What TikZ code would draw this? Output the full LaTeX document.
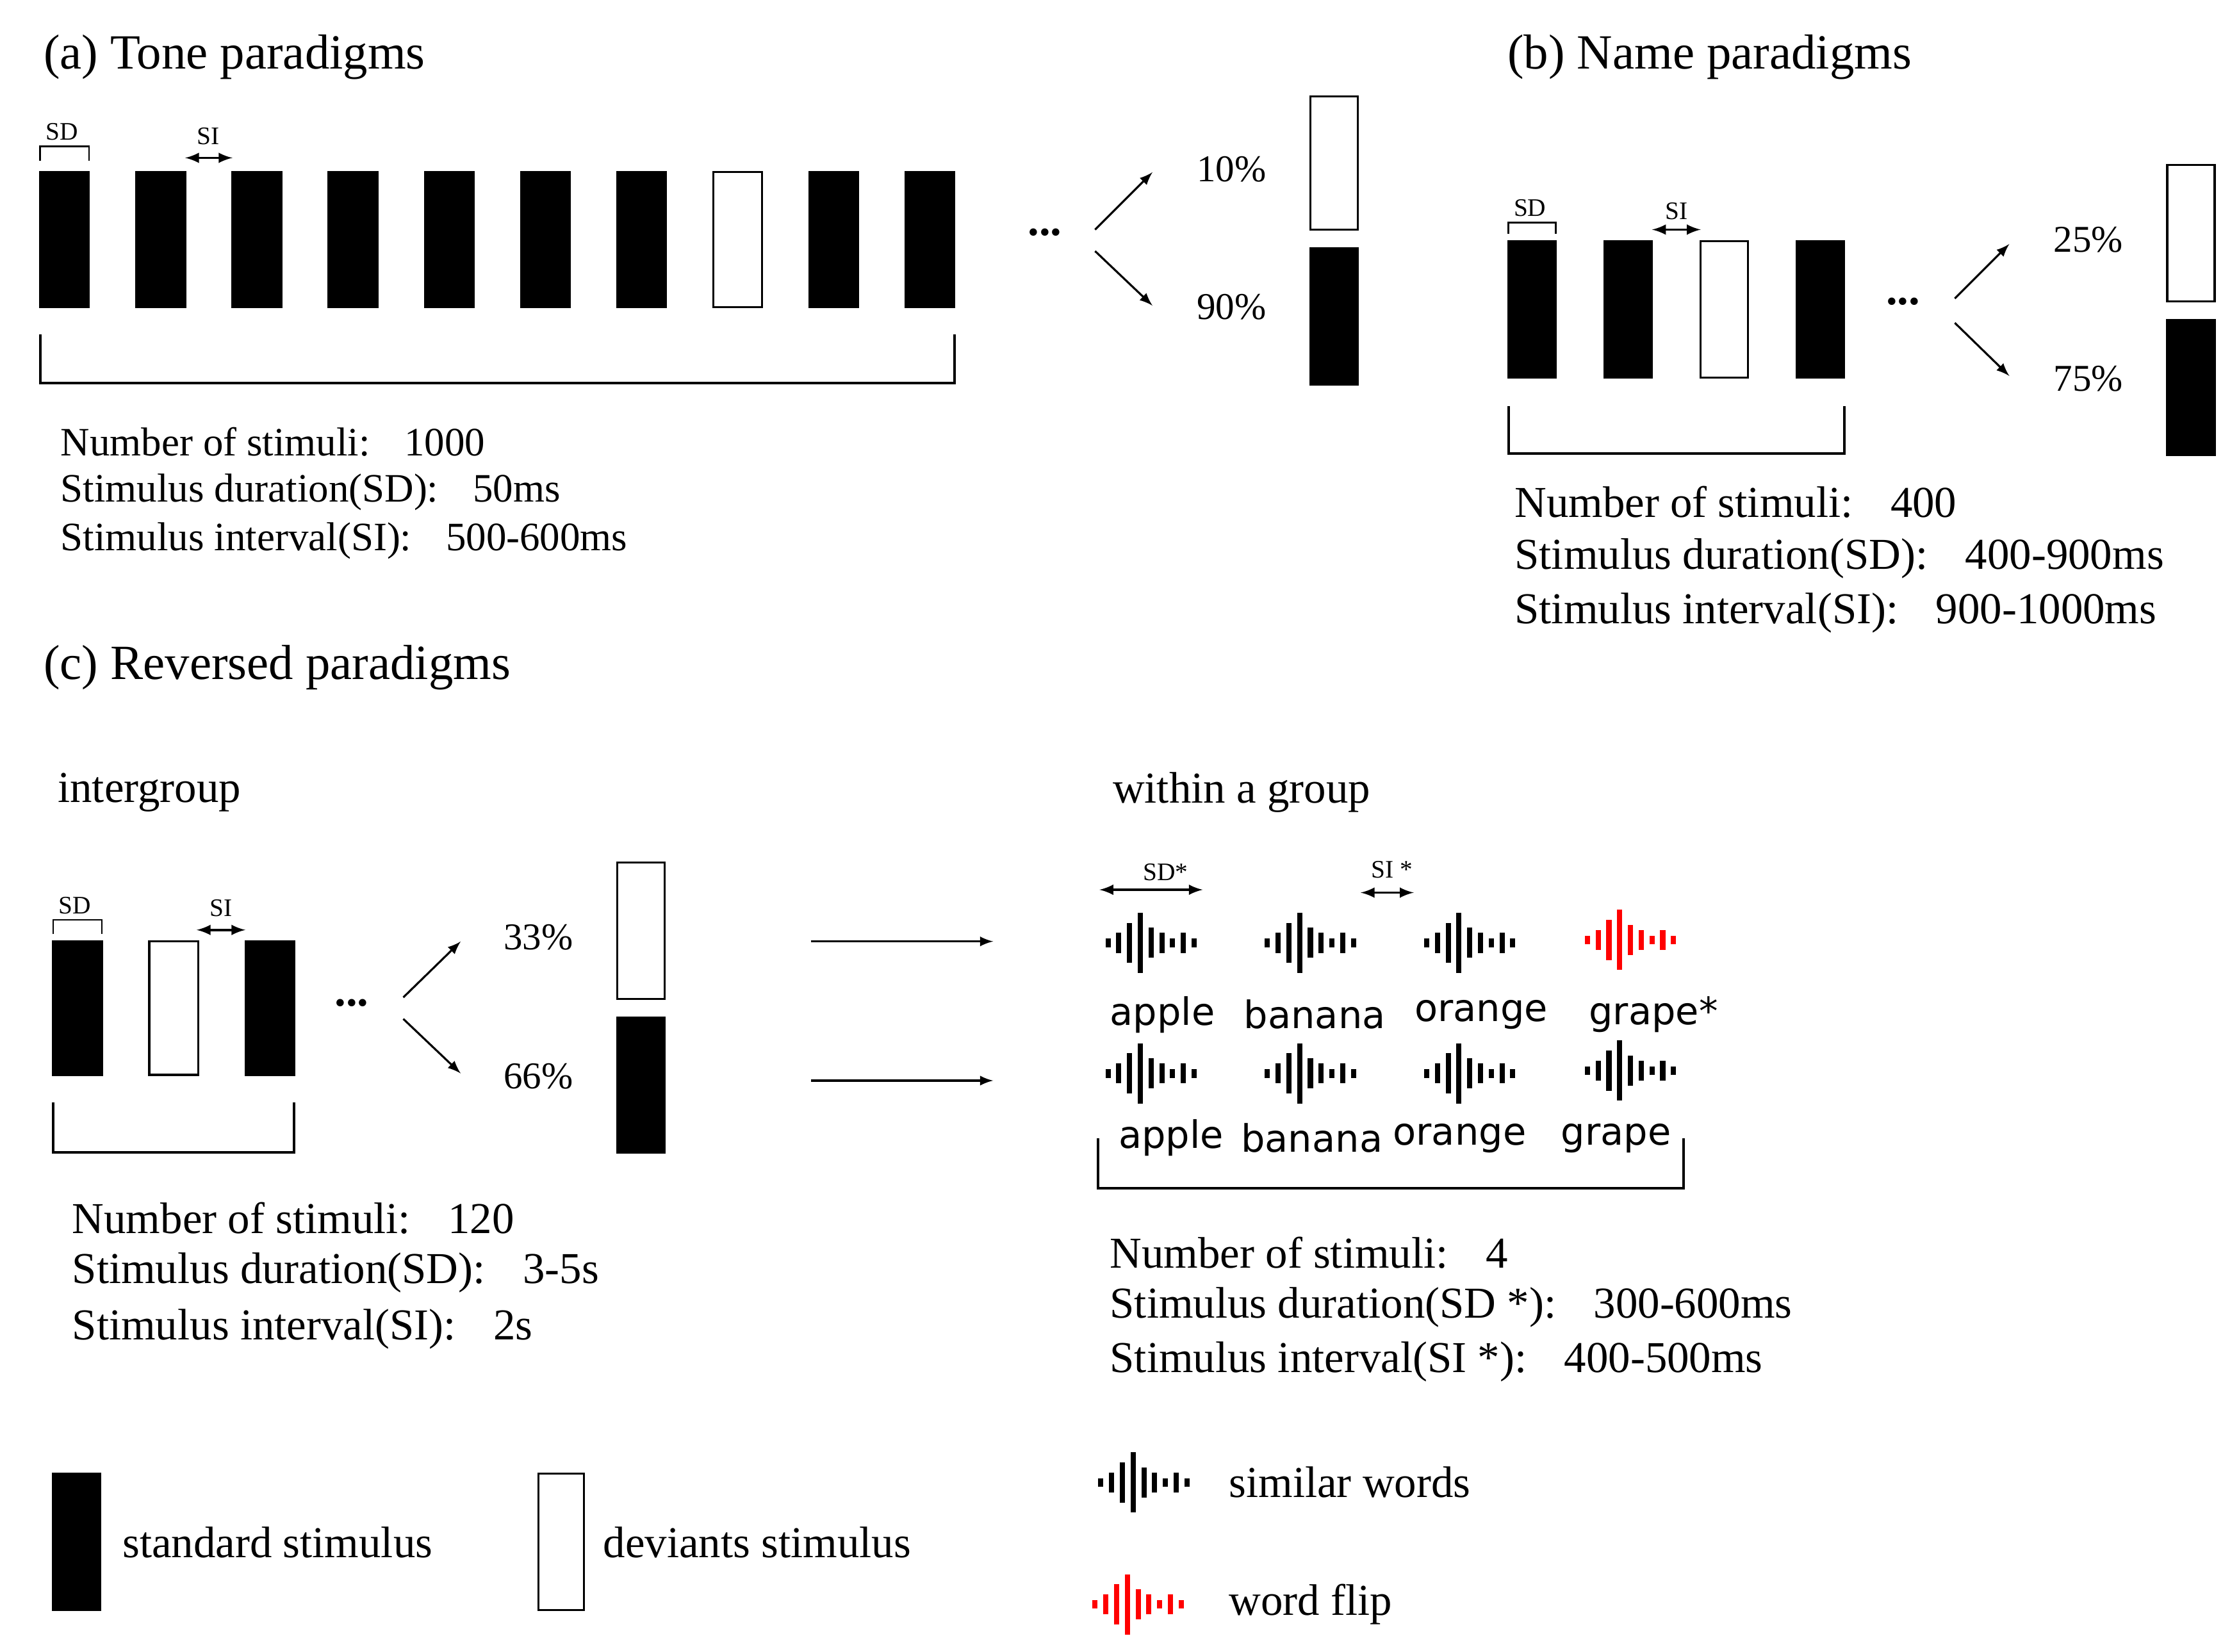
\documentclass[tikz,border=0pt]{standalone}
\usepackage{fontspec}
\setmainfont{Liberation Serif}
\newfontfamily\sansw{DejaVu Sans}
\newcommand\cln{:\hspace{0.85em}}
\begin{document}
\begin{tikzpicture}[x=0.02cm,y=-0.02cm,
  blk/.style={fill=black,draw=black,line width=0.8pt},
  wht/.style={fill=white,draw=black,line width=0.8pt},
  txt/.style={anchor=west,inner sep=0,font=\fontsize{16}{16}\selectfont},
  txtb/.style={anchor=west,inner sep=0,font=\fontsize{17.5}{17.5}\selectfont},
  ttl/.style={anchor=west,inner sep=0,font=\fontsize{19.5}{19.5}\selectfont},
  sm/.style={inner sep=0,font=\fontsize{10}{10}\selectfont},
  pc/.style={inner sep=0,font=\fontsize{15}{15}\selectfont},
  wd/.style={inner sep=0,font=\sansw\fontsize{15}{15}\selectfont},
  arr/.style={-latex,line width=0.8pt},
  darr/.style={latex-latex,line width=0.9pt},
  brk/.style={line width=1pt},
  wave/.pic={\foreach \i/\h in {0/3,1/7,2/14,3/21,4/10.5,5/7,6/3,7/7,8/3}{\fill[pic actions] ({-30+\i*7.5-1.8},{-\h}) rectangle ({-30+\i*7.5+1.8},{\h});}}
]
\useasboundingbox (0,0) rectangle (1560,1151);
% (a)
\node[ttl] (ta) at (30,40) {(a) Tone paradigms};
\draw[line width=0.7pt] (28,112) -- (28,102) -- (62,102) -- (62,112);
\node[sm] (sda) at (43,92) {SD};
\foreach \x/\s in {28/blk,95/blk,162/blk,229/blk,296/blk,363/blk,430/blk,497/wht,564/blk,631/blk}
  \draw[\s] (\x,120) rectangle ++(34,94);
\coordinate (sia1) at (129,110); \coordinate (sia2) at (162,110);
\draw[darr] (sia1) -- (sia2);
\node[sm] (sia) at (145,95) {SI};
\node[font=\fontsize{18}{18}\selectfont\bfseries] (da) at (728,162) {...};
\coordinate (aa0) at (763,160); \coordinate (aa1) at (803,120);
\coordinate (ab0) at (763,175); \coordinate (ab1) at (803,213);
\draw[arr] (aa0) -- (aa1); \draw[arr] (ab0) -- (ab1);
\node[pc] (p10) at (858,118) {10\%};
\node[pc] (p90) at (858,214) {90\%};
\draw[wht] (913,67) rectangle (946,160);
\draw[blk] (913,173) rectangle (946,268);
\draw[brk] (28,233) -- (28,267) -- (665,267) -- (665,233);
\node[txt] at (42,308) {Number of stimuli\cln 1000};
\node[txt] at (42,343) {Stimulus duration(SD)\cln 50ms};
\node[txt] at (42,377) {Stimulus interval(SI)\cln 500-600ms};
% (b)
\node[ttl] (tb) at (1050,40) {(b) Name paradigms};
\draw[line width=0.7pt] (1051,163) -- (1051,155) -- (1084,155) -- (1084,163);
\node[sm] at (1066,145) {SD};
\foreach \x/\s in {1051/blk,1118/blk,1185/wht,1252/blk}
  \draw[\s] (\x,168) rectangle ++(33,95);
\coordinate (sib1) at (1151,160); \coordinate (sib2) at (1185,160);
\draw[darr] (sib1) -- (sib2);
\node[sm] at (1168,147) {SI};
\node[font=\fontsize{18}{18}\selectfont\bfseries] at (1326,210) {...};
\coordinate (ba0) at (1362,208); \coordinate (ba1) at (1400,170);
\coordinate (bb0) at (1362,225); \coordinate (bb1) at (1400,262);
\draw[arr] (ba0) -- (ba1); \draw[arr] (bb0) -- (bb1);
\node[pc] at (1455,167) {25\%};
\node[pc] at (1455,264) {75\%};
\draw[wht] (1510,115) rectangle (1543,210);
\draw[blk] (1510,223) rectangle (1543,317);
\draw[brk] (1051,283) -- (1051,316) -- (1285,316) -- (1285,283);
\node[txtb] at (1055,350) {Number of stimuli\cln 400};
\node[txtb] at (1055,389) {Stimulus duration(SD)\cln 400-900ms};
\node[txtb] at (1055,427) {Stimulus interval(SI)\cln 900-1000ms};
% (c)
\node[ttl] at (30,465) {(c) Reversed paradigms};
\node[txtb] at (40,552) {intergroup};
\draw[line width=0.7pt] (37,651) -- (37,641) -- (71,641) -- (71,651);
\node[sm] at (52,631) {SD};
\foreach \x/\s in {37/blk,104/wht,171/blk}
  \draw[\s] (\x,656) rectangle ++(34,93);
\coordinate (sic1) at (137,648); \coordinate (sic2) at (171,648);
\draw[darr] (sic1) -- (sic2);
\node[sm] at (154,633) {SI};
\node[font=\fontsize{18}{18}\selectfont\bfseries] at (245,699) {...};
\coordinate (ca0) at (281,695); \coordinate (ca1) at (321,656);
\coordinate (cb0) at (281,710); \coordinate (cb1) at (321,748);
\draw[arr] (ca0) -- (ca1); \draw[arr] (cb0) -- (cb1);
\node[pc] at (375,653) {33\%};
\node[pc] at (375,750) {66\%};
\draw[wht] (430,601) rectangle (463,696);
\draw[blk] (430,709) rectangle (463,803);
\draw[brk] (37,768) -- (37,803) -- (205,803) -- (205,768);
\node[txtb] at (50,849) {Number of stimuli\cln 120};
\node[txtb] at (50,887) {Stimulus duration(SD)\cln 3-5s};
\node[txtb] at (50,926) {Stimulus interval(SI)\cln 2s};
\coordinate (l1a) at (565,656); \coordinate (l1b) at (692,656);
\coordinate (l2a) at (565,753); \coordinate (l2b) at (692,753);
\draw[arr] (l1a) -- (l1b); \draw[arr] (l2a) -- (l2b);
\node[txtb] at (775,552) {within a group};
\coordinate (sd1) at (766,620); \coordinate (sd2) at (838,620);
\draw[darr] (sd1) -- (sd2);
\node[sm] at (812,608) {SD*};
\coordinate (si1) at (948,622); \coordinate (si2) at (985,622);
\draw[darr] (si1) -- (si2);
\node[sm] at (970,606) {SI *};
\foreach \x in {802,913,1024} {\pic[fill=black] at (\x,657) {wave}; \pic[fill=black] at (\x,748) {wave};}
\pic[fill=red] at (1136,655) {wave};
\pic[fill=black] at (1136,746) {wave};
\node[wd] at (810,707) {apple};
\node[wd] at (916,707) {banana};
\node[wd] at (1032,707) {orange};
\node[wd] at (1152,707) {grape*};
\node[wd] at (816,793) {apple};
\node[wd] at (914,793) {banana};
\node[wd] at (1017,793) {orange};
\node[wd] at (1126,793) {grape};
\draw[brk] (765,793) -- (765,828) -- (1173,828) -- (1173,793);
\node[txtb] at (773,873) {Number of stimuli\cln 4};
\node[txtb] at (773,911) {Stimulus duration(SD *)\cln 300-600ms};
\node[txtb] at (773,949) {Stimulus interval(SI *)\cln 400-500ms};
% legend
\draw[blk] (37,1027) rectangle (70,1122);
\node[txtb] at (85,1075) {standard stimulus};
\draw[wht] (375,1027) rectangle (407,1122);
\node[txtb] at (420,1075) {deviants stimulus};
\pic[fill=black] at (797,1033) {wave};
\node[txtb] at (856,1033) {similar words};
\pic[fill=red] at (793,1118) {wave};
\node[txtb] at (856,1118) {word flip};
\end{tikzpicture}
\end{document}
